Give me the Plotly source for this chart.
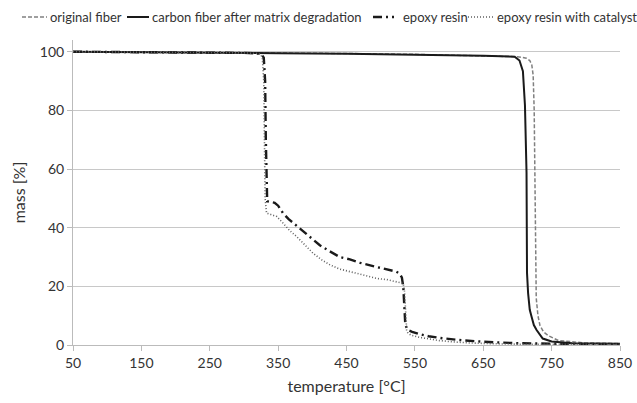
import plotly.graph_objects as go

# ---- data ----
orig_T = [50, 150, 250, 350, 450, 550, 650, 700, 713, 718, 721, 723, 724.5, 725.5, 726.5, 727.5, 730, 733, 738, 745, 760, 800, 850]
orig_m = [100, 99.9, 99.8, 99.6, 99.4, 99.1, 98.7, 98.3, 97.8, 97, 95.5, 92, 80, 55, 30, 16, 10, 6.6, 4.5, 3.2, 1.5, 0.7, 0.5]

carb_T = [50, 150, 250, 350, 450, 550, 650, 696, 703, 708, 711, 713.3, 714, 715.6, 718, 720.6, 724, 728, 737, 750, 780, 850]
carb_m = [100, 99.9, 99.7, 99.5, 99.3, 99.0, 98.6, 98.3, 97, 93.4, 81.7, 58.8, 24.6, 17.7, 12, 9.7, 6.8, 5.1, 2.2, 1.2, 0.6, 0.4]

epox_T = [50, 150, 250, 300, 320, 326, 329, 331, 332, 333, 334, 345, 350, 357, 365, 382, 396, 411, 425, 440, 455, 470, 494, 510, 523, 528, 531, 533, 534, 535, 536, 538, 541, 546, 555, 570, 590, 620, 650, 700, 750, 800, 850]
epox_m = [100, 99.9, 99.8, 99.6, 99.4, 99, 98, 90, 70, 55, 49, 48.5, 47.5, 45, 43, 39.7, 36.8, 34, 32, 30, 29.2, 28, 26.6, 25.7, 25, 24.3, 23, 20, 15, 10, 7, 5.8, 5, 4.5, 3.8, 3, 2.3, 1.6, 1.1, 0.6, 0.4, 0.3, 0.3]

cat_T = [50, 150, 250, 300, 320, 325, 327, 329, 330, 331, 333, 340, 348, 357.5, 367, 377, 390, 401, 414, 426, 440, 455, 475, 494, 509, 520, 528, 533, 535, 536, 537, 538, 540, 545, 557, 570, 586, 610, 630, 670, 720, 850]
cat_m = [100, 99.9, 99.8, 99.6, 99.4, 99, 97.5, 90, 70, 50, 45, 44.5, 43.8, 41.5, 39, 37, 34, 31.3, 29, 27.3, 25.9, 25, 23.7, 22.7, 22.3, 21.8, 21.3, 21, 18, 12, 7, 5, 4, 3.3, 2.6, 2.0, 1.5, 1, 0.7, 0.4, 0.2, 0.2]

series_names = ["original fiber", "carbon fiber after matrix degradation", "epoxy resin", "epoxy resin with catalyst"]
x_ticks = [50, 150, 250, 350, 450, 550, 650, 750, 850]
y_ticks = [0, 20, 40, 60, 80, 100]

styles = [
    dict(color="#808080", width=1.5, dash="4px,2px"),
    dict(color="#1a1a1a", width=2, dash="solid"),
    dict(color="#1a1a1a", width=2.4, dash="9px,4px,2px,4px"),
    dict(color="#606060", width=1.6, dash="1px,2px"),
]

fig = go.Figure()
for name, T, m, st in zip(series_names, [orig_T, carb_T, epox_T, cat_T],
                          [orig_m, carb_m, epox_m, cat_m], styles):
    fig.add_trace(go.Scatter(x=T, y=m, mode="lines", name=name, line=st,
                             showlegend=False))

# ---- manual legend (style samples + labels), pixel positions converted to paper ----
L, R, TOP, BOT = 73, 620, 40, 345
W, H = R - L, BOT - TOP
def px(x):
    return (x - L) / W
def py(y):
    return (BOT - y) / H

leg_y = 17
legend_items = [(22, 47, 48), (127, 149, 150), (373, 394, 401), (468, 493, 495)]
shapes = []
annotations = []
for (x0, x1, xt), name, st in zip(legend_items, series_names, styles):
    shapes.append(dict(type="line", xref="paper", yref="paper",
                       x0=px(x0), x1=px(x1), y0=py(leg_y), y1=py(leg_y),
                       line=dict(color=st["color"], width=st["width"], dash=st["dash"])))
    annotations.append(dict(text=name, xref="paper", yref="paper", x=px(xt), y=py(leg_y),
                            xanchor="left", yanchor="middle", showarrow=False,
                            font=dict(size=13, color="#333333", family="Lato")))

fig.update_layout(
    width=637, height=403,
    margin=dict(l=L, r=637 - R, t=TOP, b=403 - BOT, autoexpand=False),
    paper_bgcolor="white", plot_bgcolor="white",
    font=dict(family="Lato", color="#333333", size=13),
    shapes=shapes, annotations=annotations,
    xaxis=dict(range=[50, 850], tickvals=x_ticks, showgrid=False, zeroline=False,
               showline=True, linecolor="#bbbbbb", linewidth=1, automargin=False,
               ticks="outside", ticklen=5, tickcolor="#bbbbbb",
               tickfont=dict(size=14, color="#333333"),
               title=dict(text="temperature [°C]", font=dict(size=16, color="#333333"), standoff=11)),
    yaxis=dict(range=[0, 104], tickvals=y_ticks, showgrid=True, gridcolor="#c8c8c8", gridwidth=1,
               zeroline=False, showline=True, linecolor="#bbbbbb", linewidth=1, automargin=False,
               ticks="outside", ticklen=5, tickcolor="#bbbbbb",
               tickfont=dict(size=14, color="#333333"),
               title=dict(text="mass [%]", font=dict(size=16, color="#333333"), standoff=10)),
)

fig.write_html("out.html", config={"displayModeBar": False},
               post_script="document.body.style.margin='0';document.body.style.padding='0';")
